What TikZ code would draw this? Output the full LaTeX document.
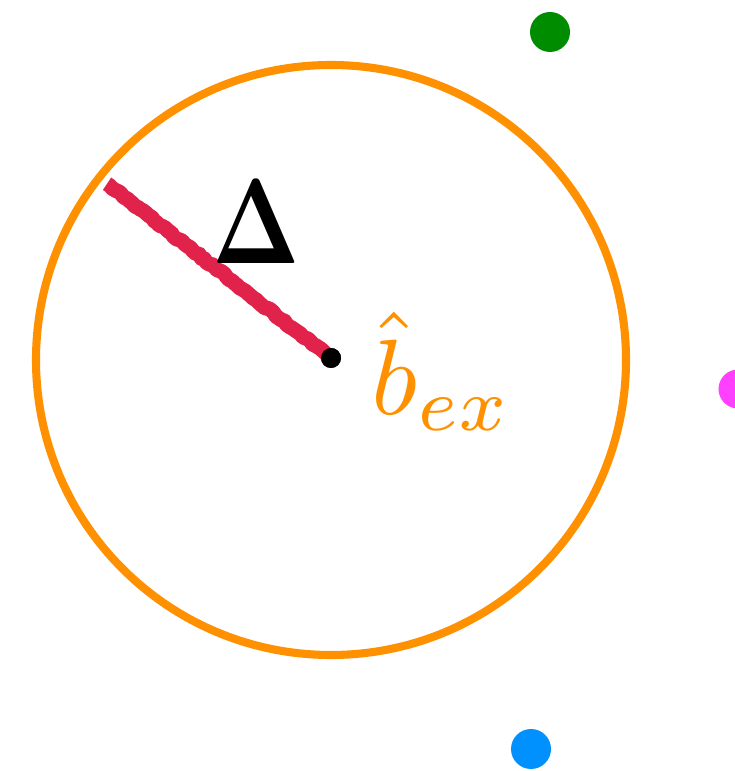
\documentclass[tikz,border=0pt]{standalone}
\usepackage{amsmath}
\usepackage{amssymb}
\usepackage{tikz}
\usetikzlibrary{calc, decorations.pathmorphing}

\definecolor{ballorange}{RGB}{255,145,0}
\definecolor{deltared}{RGB}{225,35,75}
\definecolor{dotgreen}{RGB}{0,140,0}
\definecolor{dotpink}{RGB}{255,64,255}
\definecolor{dotblue}{RGB}{0,145,255}

\begin{document}
\begin{tikzpicture}[
    ball/.style={draw=ballorange, line width=4.6pt},
    dot/.style={circle, inner sep=0pt, minimum size=#1},
    radius line/.style={
        draw=deltared,
        line width=8.5pt,
        line join=round,
        decorate,
        decoration={random steps, segment length=2pt, amplitude=0.6pt}
    }
]
\pgfmathsetseed{7}
\useasboundingbox (0,0) rectangle (14.68,15.42);

\coordinate (center) at (6.62,8.22);
\draw[ball] (center) circle (5.9);

\coordinate (rim) at ($(center)+(141.8:5.7)$);
\node[dot=0.4cm, fill=black] (bex) at (6.62,8.26) {};
\draw[radius line] (rim) -- (bex.center);
\node[dot=0.4cm, fill=black] at (bex) {};

\node (delta) at (5.12,10.98) {\scalebox{5.2}[6.9]{$\boldsymbol{\Delta}$}};
\node[anchor=west, text=ballorange, inner sep=0pt] (label) at (7.42,8.0) {\scalebox{6.1}{$\hat{b}_{ex}$}};

\node[dot=0.8cm, fill=dotgreen] (green) at (11.0,14.78) {};
\node[dot=0.78cm, fill=dotpink] (pink) at (14.76,7.64) {};
\node[dot=0.8cm, fill=dotblue] (blue) at (10.62,0.44) {};

\end{tikzpicture}
\end{document}
